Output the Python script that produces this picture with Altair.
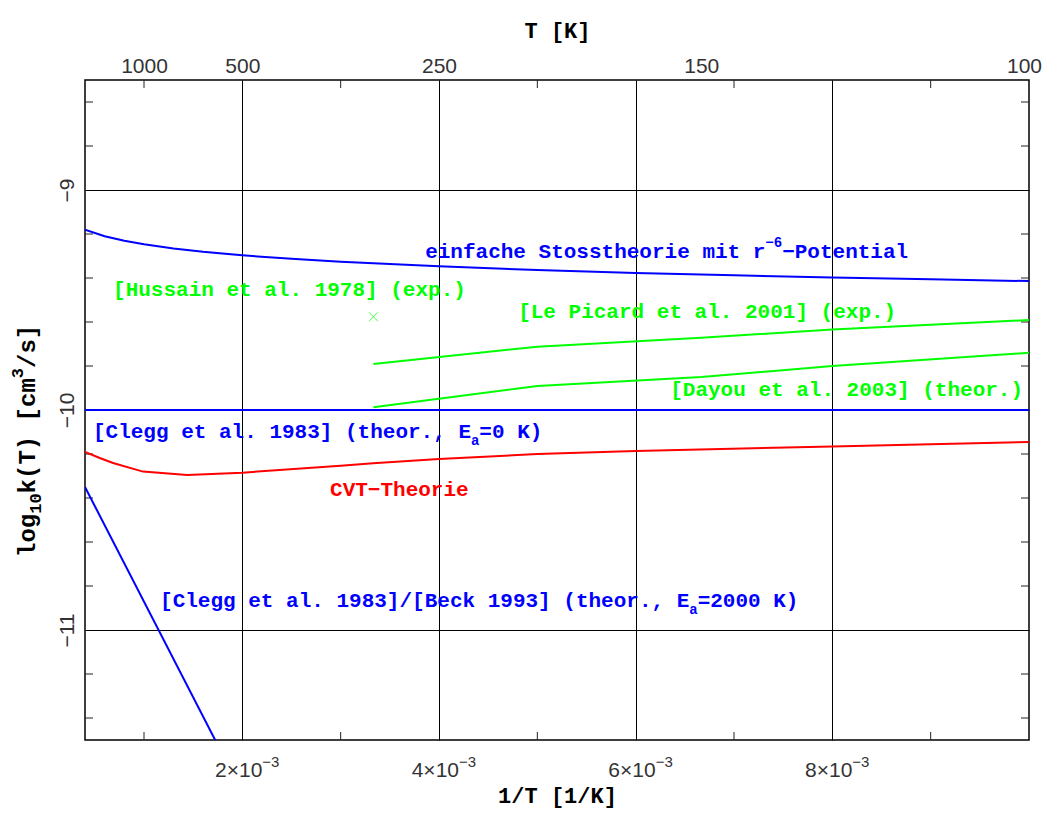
import altair as alt
import pandas as pd

# ---------------- data ----------------
stoss_x = [0.0004, 0.0006, 0.0008, 0.001, 0.0013, 0.0016, 0.002, 0.0025, 0.003,
           0.004, 0.005, 0.006, 0.007, 0.008, 0.009, 0.01]
stoss_y = [-9.181, -9.210, -9.231, -9.247, -9.266, -9.281, -9.297, -9.313, -9.326,
           -9.347, -9.364, -9.377, -9.388, -9.398, -9.406, -9.414]

picard_x = [0.003333, 0.005, 0.006667, 0.008, 0.01]
picard_y = [-9.791, -9.712, -9.672, -9.634, -9.591]

dayou_x = [0.003333, 0.005, 0.006667, 0.008, 0.01]
dayou_y = [-9.988, -9.891, -9.850, -9.800, -9.740]

hussain_x = [0.003333]
hussain_y = [-9.576]

clegg0_x = [0.0004, 0.01]
clegg0_y = [-10.0, -10.0]

cvt_x = [0.0004, 0.00055, 0.000685, 0.00099, 0.00144, 0.002, 0.003, 0.00333,
         0.004, 0.005, 0.006, 0.008, 0.01]
cvt_y = [-10.19, -10.218, -10.241, -10.28, -10.295, -10.285, -10.253, -10.242,
         -10.223, -10.2, -10.186, -10.166, -10.145]

clegg2000_x = [0.0004, 0.002]
clegg2000_y = [-10.35, -11.74]

x_major = [0.002, 0.004, 0.006, 0.008]
x_major_text = ["2×10", "4×10", "6×10", "8×10"]
x_major_exp = "−3"
x_minor = [0.001, 0.003, 0.005, 0.007, 0.009]
y_major = [-9, -10, -11]
y_minor = [-8.6, -8.8, -9.2, -9.4, -9.6, -9.8, -10.2, -10.4, -10.6, -10.8, -11.2, -11.4]
top_T = [1000, 500, 250, 150, 100]

# ---------------- styling ----------------
W, H = 944, 660
BLUE, GREEN, RED = "#0000ff", "#00ff00", "#ff0000"
FONT = "Liberation Mono"
TICKFONT = "Liberation Sans"
TICKCOLOR = "#333333"
TICKFS = 21
FS = 21
SFS = 14
TICK_LEN = 8

xs = alt.Scale(domain=[0.0004, 0.01], nice=False, zero=False)
ys = alt.Scale(domain=[-11.5, -8.5], nice=False, zero=False)


def xy_df(xv, yv):
    return pd.DataFrame({"x": xv, "y": yv})


def line(xv, yv, color):
    return alt.Chart(xy_df(xv, yv)).mark_line(color=color, strokeWidth=2, clip=True).encode(
        x=alt.X("x:Q", scale=xs, axis=None),
        y=alt.Y("y:Q", scale=ys, axis=None),
    )


def text_label(x, y, pieces, color):
    out = []
    off = 0.0
    for txt, kind in pieces:
        if kind == "n":
            fs, dy = FS, 0
        elif kind == "sup":
            fs, dy = SFS, -9
        else:
            fs, dy = SFS, 9
        df = pd.DataFrame({"x": [x], "y": [y], "t": [txt]})
        out.append(
            alt.Chart(df).mark_text(
                align="left", baseline="middle", dx=off, dy=dy, font=FONT,
                fontSize=fs, fontWeight="bold", color=color,
            ).encode(
                x=alt.X("x:Q", scale=xs, axis=None),
                y=alt.Y("y:Q", scale=ys, axis=None),
                text="t:N",
            )
        )
        off += len(txt) * 0.6 * fs
    return out


def y_title(pieces, px, py, fs_n, fs_s):
    out = []
    off = 0.0
    for txt, kind in pieces:
        if kind == "n":
            fs, dy = fs_n, 0
        elif kind == "sup":
            fs, dy = fs_s, -10
        else:
            fs, dy = fs_s, 8
        out.append(
            alt.Chart(pd.DataFrame({"t": [txt]})).mark_text(
                angle=270, align="left", baseline="middle", dx=off, dy=dy, font=FONT,
                fontSize=fs, fontWeight="bold", color="black",
            ).encode(x=alt.value(px), y=alt.value(py), text="t:N")
        )
        off += len(txt) * 0.6 * fs
    return out


# main layer with bottom + left axes (grid at majors)
base = alt.Chart(xy_df(stoss_x, stoss_y)).mark_line(color=BLUE, strokeWidth=2, clip=True).encode(
    x=alt.X(
        "x:Q", scale=xs,
        axis=alt.Axis(
            orient="bottom", values=x_major, grid=True, gridColor="black", gridWidth=1,
            gridOpacity=1, ticks=False, tickSize=0, domain=False, labels=False,
            title="1/T [1/K]", titleFont=FONT, titleFontSize=22, titleFontWeight="bold",
            titleColor="black", titleX=W / 2, titleY=55, titleAlign="center",
            titleBaseline="middle",
        ),
    ),
    y=alt.Y(
        "y:Q", scale=ys,
        axis=alt.Axis(
            orient="left", values=y_major, grid=True, gridColor="black", gridWidth=1,
            gridOpacity=1, ticks=False, tickSize=0, domain=False,
            labelExpr="'−' + abs(datum.value)",
            labelAngle=270, labelAlign="center", labelBaseline="bottom",
            labelFont=TICKFONT, labelFontSize=TICKFS, labelColor=TICKCOLOR, labelPadding=8,
            labelOverlap=False, title=None,
        ),
    ),
)

# top axis (temperatures) carried by the top minor tick layer
top_ticks = alt.Chart(pd.DataFrame({"x": x_minor})).mark_rule(color="#222222", strokeWidth=1).encode(
    x=alt.X(
        "x:Q", scale=xs,
        axis=alt.Axis(
            orient="top", values=[1.0 / t for t in top_T], grid=False, ticks=False,
            tickSize=0, domain=False,
            labelExpr="round(1/datum.value)", labelBaseline="alphabetic",
            labelFont=TICKFONT, labelFontSize=TICKFS, labelColor=TICKCOLOR, labelPadding=8,
            labelOffset={"condition": {"test": "datum.value > 0.0099", "value": -5}, "value": 0},
            labelFlush=False, labelOverlap=False,
            title="T [K]", titleFont=FONT, titleFontSize=22, titleFontWeight="bold",
            titleColor="black", titleX=W / 2, titleY=-50, titleAlign="center",
            titleBaseline="middle",
        ),
    ),
    y=alt.value(0),
    y2=alt.value(TICK_LEN),
)

bottom_ticks = alt.Chart(pd.DataFrame({"x": x_minor})).mark_rule(color="#222222", strokeWidth=1).encode(
    x=alt.X("x:Q", scale=xs, axis=None), y=alt.value(H), y2=alt.value(H - TICK_LEN)
)
left_ticks = alt.Chart(pd.DataFrame({"y": y_minor})).mark_rule(color="#222222", strokeWidth=1).encode(
    y=alt.Y("y:Q", scale=ys, axis=None), x=alt.value(0), x2=alt.value(TICK_LEN)
)
right_ticks = alt.Chart(pd.DataFrame({"y": y_minor})).mark_rule(color="#222222", strokeWidth=1).encode(
    y=alt.Y("y:Q", scale=ys, axis=None), x=alt.value(W - TICK_LEN), x2=alt.value(W)
)

# bottom tick labels "2×10⁻³" with a real superscript
bl_df = pd.DataFrame({"x": x_major, "t": x_major_text, "e": [x_major_exp] * len(x_major)})
bottom_lab = alt.Chart(bl_df).mark_text(
    align="right", baseline="alphabetic", dx=20, font=TICKFONT, fontSize=TICKFS,
    color=TICKCOLOR,
).encode(x=alt.X("x:Q", scale=xs, axis=None), y=alt.value(H + 37), text="t:N")
bottom_exp = alt.Chart(bl_df).mark_text(
    align="left", baseline="alphabetic", dx=20, font=TICKFONT, fontSize=15,
    color=TICKCOLOR,
).encode(x=alt.X("x:Q", scale=xs, axis=None), y=alt.value(H + 27), text="e:N")

hussain = alt.Chart(xy_df(hussain_x, hussain_y)).mark_point(
    shape="M-1,-1L1,1M-1,1L1,-1", size=80, filled=False, color=GREEN, strokeWidth=1
).encode(x=alt.X("x:Q", scale=xs, axis=None), y=alt.Y("y:Q", scale=ys, axis=None))

layers = [
    base,
    top_ticks, bottom_ticks, left_ticks, right_ticks,
    bottom_lab, bottom_exp,
    line(picard_x, picard_y, GREEN),
    line(dayou_x, dayou_y, GREEN),
    line(clegg0_x, clegg0_y, BLUE),
    line(cvt_x, cvt_y, RED),
    line(clegg2000_x, clegg2000_y, BLUE),
    hussain,
]

layers += y_title([("log", "n"), ("10", "sub"), ("k(T) [cm", "n"), ("3", "sup"), ("/s]", "n")],
                  -57, 477, 24, 17)

layers += text_label(0.003859, -9.282,
                     [("einfache Stosstheorie mit r", "n"), ("−6", "sup"), ("−Potential", "n")], BLUE)
layers += text_label(0.000685, -9.455, [("[Hussain et al. 1978] (exp.)", "n")], GREEN)
layers += text_label(0.004805, -9.555, [("[Le Picard et al. 2001] (exp.)", "n")], GREEN)
layers += text_label(0.006351, -9.909, [("[Dayou et al. 2003] (theor.)", "n")], GREEN)
layers += text_label(0.000481, -10.1,
                     [("[Clegg et al. 1983] (theor., E", "n"), ("a", "sub"), ("=0 K)", "n")], BLUE)
layers += text_label(0.002892, -10.364, [("CVT−Theorie", "n")], RED)
layers += text_label(0.001163, -10.868,
                     [("[Clegg et al. 1983]/[Beck 1993] (theor., E", "n"), ("a", "sub"),
                      ("=2000 K)", "n")], BLUE)

chart = alt.layer(*layers).resolve_axis(x="independent", y="independent").properties(
    width=W, height=H,
    autosize=alt.AutoSizeParams(type="none"),
    padding={"left": 77, "top": 72, "right": 13, "bottom": 68},
    background="white",
).configure_view(stroke="black", strokeWidth=1.5)

chart.save("out.html", embed_options={"renderer": "svg", "actions": False})
